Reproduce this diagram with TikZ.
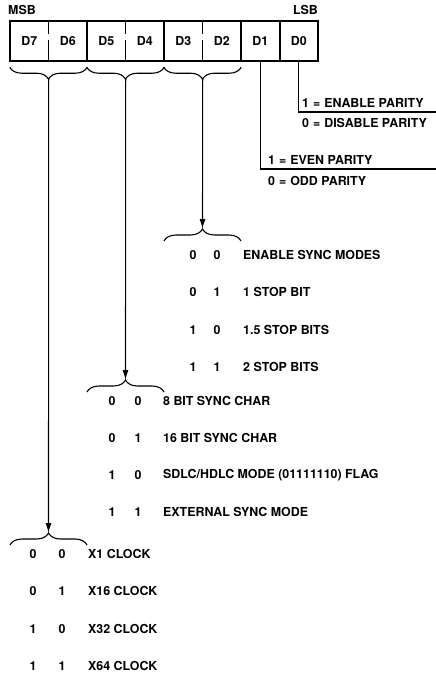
\documentclass[tikz,border=0pt]{standalone}
\usepackage{fontspec}
\setmainfont{TeX Gyre Heros}
\usetikzlibrary{arrows.meta,positioning,decorations.pathreplacing}

\newcommand{\eqsign}{\hspace{4pt}=\hspace{4pt}}

\begin{document}
\begin{tikzpicture}[x=1pt,y=-1pt,>={Latex[length=10pt,width=6pt]},
  font=\fontsize{12.4}{14}\selectfont\bfseries,
  cell/.style={minimum width=38.5pt,minimum height=40pt,inner sep=0pt},
  lbl/.style={anchor=west,inner sep=0pt},
  bit/.style={inner sep=0pt},
  frame/.style={line width=1.6pt},
  wire/.style={line width=1.1pt},
  brc/.style={decorate,decoration={brace,amplitude=12pt},line width=1.1pt}]
\useasboundingbox (0,0) rectangle (436,675);
% register
\foreach \b [count=\i from 0] in {7,...,0}
  \node[cell] (d\b) at ({29.25+38.5*\i},41) {D\b};
\node[lbl] (msb) at (8,10) {MSB};
\node[anchor=east,inner sep=0pt] (lsb) at (318,10) {LSB};
\draw[frame] (d7.north west) rectangle (d0.south east);
\foreach \b in {6,4,2,1}
  \draw[frame] (d\b.north east) -- (d\b.south east);
\foreach \b in {7,5,3}
  \draw[wire,dash pattern=on 13pt off 6pt on 21pt off 0pt] (d\b.north east) -- (d\b.south east);
% braces under the register
\foreach \l/\r/\g in {7/6/a,5/4/b,3/2/c} {
  \draw[brc] ([yshift=-6pt]d\r.south east) -- ([yshift=-6pt]d\l.south west);
  \coordinate (top\g) at ([yshift=-18pt]d\l.south east);
}
% parity bits
\coordinate (parend) at (436,112);
\coordinate (evenend) at (436,169);
\draw[wire] (d0.south) |- (parend);
\draw[wire] (d1.south) |- (evenend);
\node[lbl] (enpar) at (302,103) {1\eqsign ENABLE PARITY};
\node[lbl] (dispar) at (302,123) {0\eqsign DISABLE PARITY};
\node[lbl] (evpar) at (268,160) {1\eqsign EVEN PARITY};
\node[lbl] (odpar) at (268,181) {0\eqsign ODD PARITY};
% lower braces
\coordinate (bota) at (48.5,533);
\coordinate (botb) at (125.5,380);
\coordinate (botc) at (202.5,229);
\draw[brc] (10,545) -- (87,545);
\draw[brc] (87,392) -- (164,392);
\draw[brc] (164,241) -- (241,241);
\foreach \g in {a,b,c}
  \draw[wire,->] (top\g) -- (bot\g);
% D3 D2
\foreach \p/\q/\t [count=\r] in {0/0/ENABLE SYNC MODES,0/1/1 STOP BIT,1/0/1.5 STOP BITS,1/1/2 STOP BITS} {
  \node[bit] (cp\r) at (193,{255+37.3*(\r-1)}) {\p};
  \node[bit] (cq\r) at (217,{255+37.3*(\r-1)}) {\q};
  \node[lbl] (ct\r) at (243,{255+37.3*(\r-1)}) {\t};
}
% D5 D4
\foreach \p/\q/\t [count=\r] in {0/0/8 BIT SYNC CHAR,0/1/16 BIT SYNC CHAR,1/0/{SDLC/HDLC MODE (01111110) FLAG},1/1/EXTERNAL SYNC MODE} {
  \node[bit] (bp\r) at (112,{401+37*(\r-1)}) {\p};
  \node[bit] (bq\r) at (138,{401+37*(\r-1)}) {\q};
  \node[lbl] (bt\r) at (163,{401+37*(\r-1)}) {\t};
}
% D7 D6
\foreach \p/\q/\t [count=\r] in {0/0/X1 CLOCK,0/1/X16 CLOCK,1/0/X32 CLOCK,1/1/X64 CLOCK} {
  \node[bit] (ap\r) at (33,{554+37.3*(\r-1)}) {\p};
  \node[bit] (aq\r) at (62,{554+37.3*(\r-1)}) {\q};
  \node[lbl] (at\r) at (88,{554+37.3*(\r-1)}) {\t};
}
\end{tikzpicture}
\end{document}
